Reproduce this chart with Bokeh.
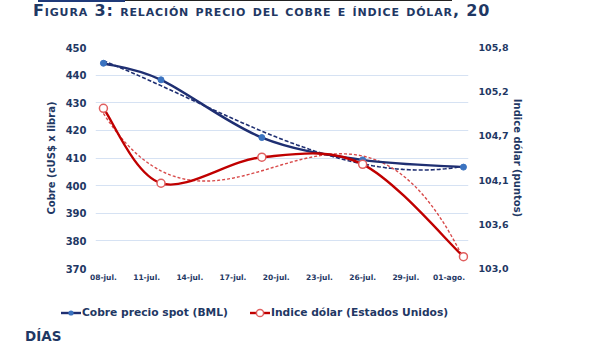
import numpy as np
from bokeh.plotting import figure
from bokeh.layouts import column
from bokeh.models import Range1d, LinearAxis, FixedTicker, Div
from bokeh.embed import file_html
from bokeh.resources import INLINE

# ---------------- data ----------------
fechas = ["08-jul", "12-jul", "19-jul", "26-jul", "02-ago"]
dias = [0, 4, 11, 18, 25]                      # days since 08-jul
cobre = [444.3, 438.3, 417.4, 409.3, 406.7]    # cUS$ x libra
dolar = [105.03, 104.08, 104.41, 104.32, 103.15]  # puntos

x_tick_dias = [0, 3, 6, 9, 12, 15, 18, 21, 24]
x_tick_labels = ["08-jul.", "11-jul.", "14-jul.", "17-jul.", "20-jul.",
                 "23-jul.", "26-jul.", "29-jul.", "01-ago."]
cobre_ticks = [370, 380, 390, 400, 410, 420, 430, 440, 450]
dolar_ticks = [103.0, 103.56, 104.12, 104.68, 105.24, 105.8]
dolar_tick_labels = ["103,0", "103,6", "104,1", "104,7", "105,2", "105,8"]

titulo = "Figura 3: relación precio del cobre e índice dólar, 20"
serie_cobre = "Cobre precio spot (BML)"
serie_dolar = "Indice dólar (Estados Unidos)"
eje_x = "DÍAS"

# ---------------- layout constants ----------------
W = 600
TOP_H, MAIN_H, BOT_H = 35, 255, 66
FL, FR, FT, FB = 95, 468, 47, 268   # frame edges in page px
X0, X1 = -0.55, 25.35
Y0, Y1 = 370, 450
D0, D1 = 103.0, 105.8

NAVY = "#1f2f72"
RED = "#c00000"
MK_BLUE = "#3b73c0"
MK_RED = "#e06060"
TXT = "#1f3864"
FONT = "DejaVu Sans"
BASE = f"font-family:'{FONT}';font-weight:bold;color:{TXT};white-space:nowrap;"

# ---------------- title ----------------
title_div = Div(
    text=(f'<div style="position:relative;width:{W}px;height:{TOP_H}px">'
          f'<div style="position:absolute;left:38px;top:0;width:87px;height:2px;background:#1f3a7a"></div>'
          f'<div style="position:absolute;left:125px;top:0;width:327px;height:1px;background:#222"></div>'
          f'<div style="{BASE}position:absolute;left:33px;top:3px;font-variant:small-caps;'
          f'font-size:16px;line-height:16px;letter-spacing:0.85px">{titulo}</div></div>'),
    width=W, height=TOP_H, margin=(0, 0, 0, 0))

# ---------------- main chart ----------------
p = figure(width=W, height=MAIN_H, x_range=Range1d(X0, X1), y_range=Range1d(Y0, Y1),
           output_backend="svg", toolbar_location=None,
           min_border_left=FL, min_border_right=W - FR,
           min_border_top=FT - TOP_H, min_border_bottom=TOP_H + MAIN_H - FB)
p.extra_y_ranges = {"dolar": Range1d(D0, D1)}
p.outline_line_color = None
p.background_fill_color = "white"
p.border_fill_color = "white"


def style_axis(ax, size):
    ax.axis_line_color = None
    ax.major_tick_line_color = None
    ax.minor_tick_line_color = None
    ax.major_tick_out = 0
    ax.major_tick_in = 0
    ax.minor_tick_out = 0
    ax.minor_tick_in = 0
    ax.major_label_text_font = FONT
    ax.major_label_text_font_style = "bold"
    ax.major_label_text_color = TXT
    ax.major_label_text_font_size = size
    ax.axis_label_text_font = FONT
    ax.axis_label_text_font_style = "bold"
    ax.axis_label_text_color = TXT
    ax.axis_label_text_font_size = "10px"


xa = p.xaxis[0]
style_axis(xa, "7.5px")
xa.ticker = FixedTicker(ticks=x_tick_dias)
xa.major_label_overrides = {d: l for d, l in zip(x_tick_dias, x_tick_labels)}
xa.major_label_standoff = 4

ya = p.yaxis[0]
style_axis(ya, "10px")
ya.ticker = FixedTicker(ticks=cobre_ticks)
ya.major_label_standoff = 9
ya.axis_label = "Cobre (cUS$ x libra)"
ya.axis_label_standoff = 6

rax = LinearAxis(y_range_name="dolar", ticker=FixedTicker(ticks=dolar_ticks))
style_axis(rax, "9.5px")
rax.major_label_overrides = {tk: l for tk, l in zip(dolar_ticks, dolar_tick_labels)}
rax.major_label_standoff = 10
rax.axis_label = "Indice dólar (puntos)"
rax.axis_label_standoff = 0
p.add_layout(rax, "right")

p.xgrid.grid_line_color = None
p.ygrid.grid_line_color = "#d6e2f3"
p.ygrid.grid_line_width = 1


# smooth curves (Excel-like smoothing) as cubic Beziers through the data
def bezier_ctrl(xs, ys, k=1.0):
    n = len(xs)
    P = list(zip(xs, ys))
    out = {key: [] for key in ["x0", "y0", "x1", "y1", "cx0", "cy0", "cx1", "cy1"]}
    for i in range(n - 1):
        pm = P[i - 1] if i > 0 else P[i]
        pa, pb = P[i], P[i + 1]
        pn = P[i + 2] if i + 2 < n else P[i + 1]
        out["x0"].append(pa[0]); out["y0"].append(pa[1])
        out["x1"].append(pb[0]); out["y1"].append(pb[1])
        out["cx0"].append(pa[0] + (pb[0] - pm[0]) / 6 * k)
        out["cy0"].append(pa[1] + (pb[1] - pm[1]) / 6 * k)
        out["cx1"].append(pb[0] - (pn[0] - pa[0]) / 6 * k)
        out["cy1"].append(pb[1] - (pn[1] - pa[1]) / 6 * k)
    return out


# polynomial trendlines (order 3) fitted to the data
xs_fit = np.linspace(dias[0], dias[-1], 120)
tc = np.polyval(np.polyfit(dias, cobre, 3), xs_fit)
td = np.polyval(np.polyfit(dias, dolar, 3), xs_fit)

p.line(xs_fit, tc, line_color=NAVY, line_width=1.6, line_dash="4 2")
p.line(xs_fit, td, line_color="#d84a4a", line_width=1.4, line_dash="3 2",
       y_range_name="dolar")

bz = dict(x0="x0", y0="y0", x1="x1", y1="y1", cx0="cx0", cy0="cy0", cx1="cx1", cy1="cy1")
p.bezier(source=bezier_ctrl(dias, cobre), line_color=NAVY, line_width=2.4, **bz)
p.bezier(source=bezier_ctrl(dias, dolar), line_color=RED, line_width=2.4,
         y_range_name="dolar", **bz)

p.scatter(dias, cobre, marker="circle", size=6, fill_color=MK_BLUE, line_color=MK_BLUE)
p.scatter(dias, dolar, marker="circle", size=8, fill_color="white",
          line_color=MK_RED, line_width=1.5, y_range_name="dolar")

# ---------------- legend + "DÍAS" strip ----------------
sw1 = (f'<svg width="20" height="12" style="position:absolute;left:61px;top:17px">'
       f'<line x1="0" y1="6" x2="20" y2="6" stroke="{NAVY}" stroke-width="2.4"/>'
       f'<circle cx="10" cy="6" r="2.6" fill="{MK_BLUE}"/></svg>')
sw2 = (f'<svg width="20" height="12" style="position:absolute;left:250px;top:17px">'
       f'<line x1="0" y1="6" x2="20" y2="6" stroke="{RED}" stroke-width="2.4"/>'
       f'<circle cx="10" cy="6" r="3.6" fill="white" stroke="{MK_RED}" stroke-width="1.5"/></svg>')
bottom_div = Div(
    text=(f'<div style="position:relative;width:{W}px;height:{BOT_H}px">'
          f'{sw1}<span style="{BASE}position:absolute;left:82px;top:16px;'
          f'font-size:10.7px;line-height:14px">{serie_cobre}</span>'
          f'{sw2}<span style="{BASE}position:absolute;left:271px;top:16px;'
          f'font-size:10.7px;line-height:14px">{serie_dolar}</span>'
          f'<span style="{BASE}position:absolute;left:25px;top:38px;'
          f'font-size:13.5px;line-height:16px">{eje_x}</span></div>'),
    width=W, height=BOT_H, margin=(0, 0, 0, 0))

layout = column(title_div, p, bottom_div, spacing=0)
open("out.html", "w").write(file_html(layout, INLINE))
